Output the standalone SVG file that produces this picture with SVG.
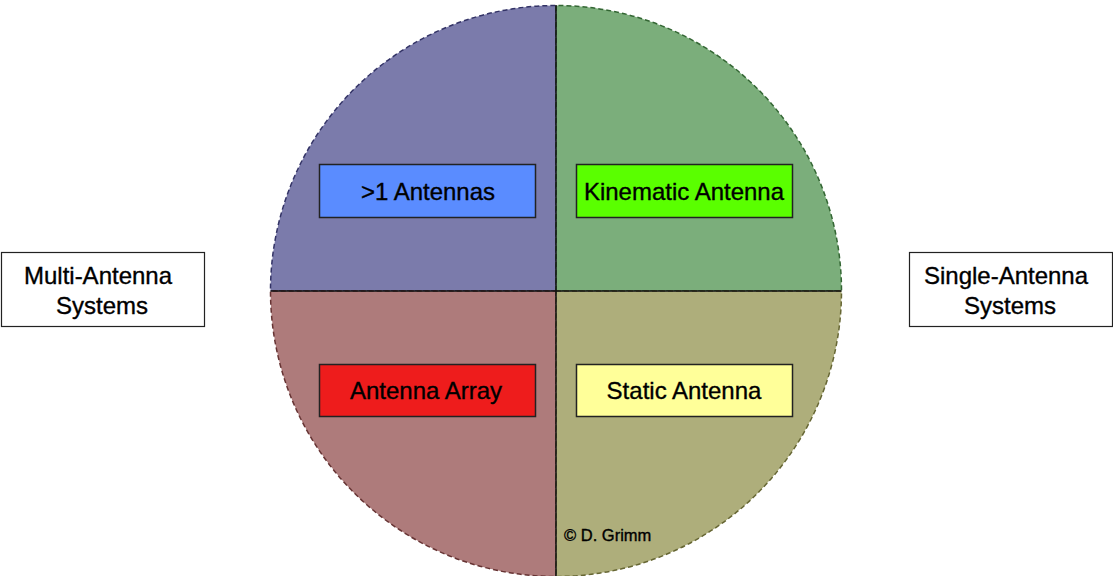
<svg xmlns="http://www.w3.org/2000/svg" width="1113" height="576" viewBox="0 0 1113 576">
<style>
text{font-family:"Liberation Sans",Arial,sans-serif;fill:#000;stroke:#000;stroke-width:0.35}
.lbl{font-size:24px;text-anchor:middle}
.box{stroke:#222;stroke-width:1.5}
.side{fill:#fff;stroke:#222;stroke-width:1.2}
.q{stroke-width:1.5;stroke-dasharray:5,3}
</style>
<rect width="1113" height="576" fill="#fff"/>
<g id="quadrants">
<path id="q-tl" class="q" d="M556,291 L270.5,291 A285.5,285.5 0 0 1 556,5.5 Z" fill="#7b7bab" stroke="#333366"/>
<path id="q-tr" class="q" d="M556,291 L556,5.5 A285.5,285.5 0 0 1 841.5,291 Z" fill="#7bae7b" stroke="#336633"/>
<path id="q-bl" class="q" d="M556,291 L556,576.5 A285.5,285.5 0 0 1 270.5,291 Z" fill="#ae7b7b" stroke="#663333"/>
<path id="q-br" class="q" d="M556,291 L841.5,291 A285.5,285.5 0 0 1 556,576.5 Z" fill="#aeae7b" stroke="#666633"/>
</g>
<g id="connectors">
<line x1="270.5" y1="291" x2="841.5" y2="291" stroke="#111" stroke-width="1.5"/>
<line x1="556" y1="5" x2="556" y2="576" stroke="#111" stroke-width="1.5"/>
</g>
<g id="n-multi">
<rect class="side" x="1.5" y="252.5" width="203" height="74"/>
<text class="lbl" x="98" y="284">Multi-Antenna</text>
<text class="lbl" x="102" y="314">Systems</text>
</g>
<g id="n-single">
<rect class="side" x="909.5" y="252.5" width="203" height="74"/>
<text class="lbl" x="1006" y="284">Single-Antenna</text>
<text class="lbl" x="1010" y="314">Systems</text>
</g>
<g id="n-gt1">
<rect class="box" x="319.5" y="164.5" width="216" height="53" fill="#5a8cff"/>
<text class="lbl" x="428" y="200">&gt;1 Antennas</text>
</g>
<g id="n-kin">
<rect class="box" x="576.5" y="164.5" width="216" height="53" fill="#5aff00"/>
<text class="lbl" x="684" y="200">Kinematic Antenna</text>
</g>
<g id="n-array">
<rect class="box" x="319.5" y="364.5" width="216" height="52" fill="#ee1c1c"/>
<text class="lbl" x="426" y="399">Antenna Array</text>
</g>
<g id="n-static">
<rect class="box" x="576.5" y="364.5" width="216" height="52" fill="#ffff99"/>
<text class="lbl" x="684" y="399">Static Antenna</text>
</g>
<text x="564" y="541" font-size="16.5" fill="#222" stroke-width="0.2">© D. Grimm</text>
</svg>
